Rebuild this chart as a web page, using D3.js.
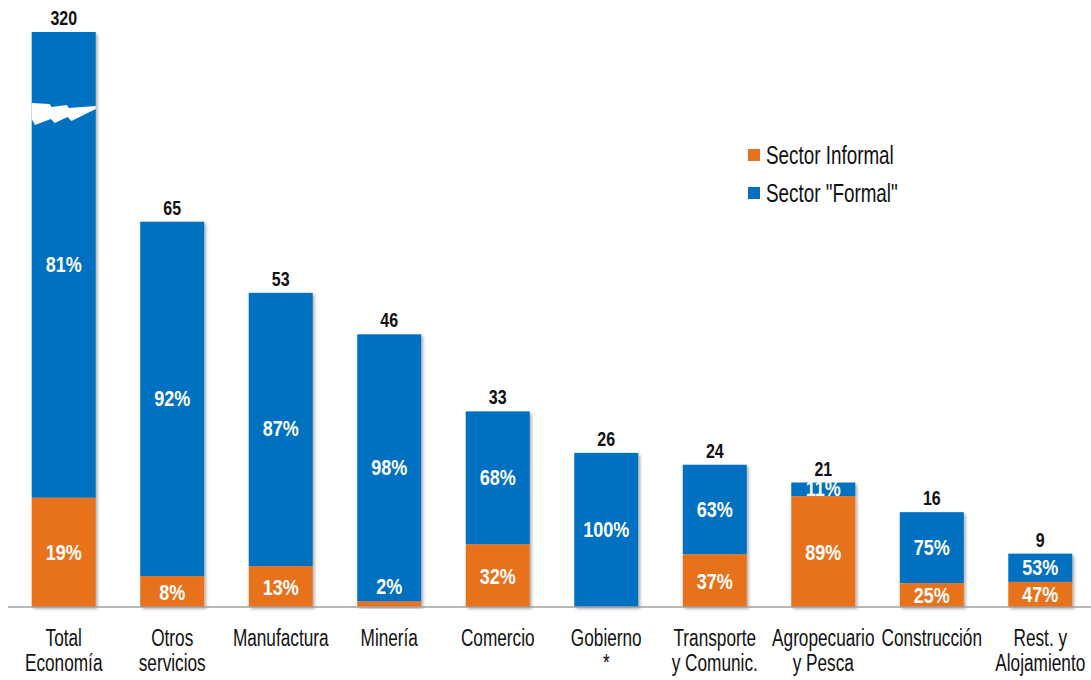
<!DOCTYPE html>
<html>
<head>
<meta charset="utf-8">
<script src="https://cdn.jsdelivr.net/npm/d3@7"></script>
<style>
  body { margin: 0; background: #fff; }
  svg text { font-family: "Liberation Sans", Arial, sans-serif; }
</style>
</head>
<body>
<div id="chart"></div>
<script>
var width = 1091;
var height = 680;

// datos
var categories = ["Total Economía", "Otros servicios", "Manufactura", "Minería", "Comercio",
                  "Gobierno *", "Transporte y Comunic.", "Agropecuario y Pesca", "Construcción", "Rest. y Alojamiento"];
var categoryLines = [["Total", "Economía"], ["Otros", "servicios"], ["Manufactura"], ["Minería"], ["Comercio"],
                     ["Gobierno", "*"], ["Transporte", "y Comunic."], ["Agropecuario", "y Pesca"], ["Construcción"], ["Rest. y", "Alojamiento"]];
var totals = [320, 65, 53, 46, 33, 26, 24, 21, 16, 9];
var informalPct = [19, 8, 13, 2, 32, 0, 37, 89, 25, 47];
var formalPct = [81, 92, 87, 98, 68, 100, 63, 11, 75, 53];
var seriesNames = ["Sector Informal", "Sector \"Formal\""];

var yMax = 97;      // eje recortado, la barra Total se corta
var breakAt = 83;

var orange = "#E8711E";
var blue = "#0070C0";
var narrow = 0.82;  // simula Arial Narrow

var svg = d3.select("#chart").append("svg")
    .attr("width", width)
    .attr("height", height);

var defs = svg.append("defs");
var f = defs.append("filter").attr("id", "shadow")
    .attr("x", "-10%").attr("y", "-10%").attr("width", "130%").attr("height", "130%");
f.append("feDropShadow").attr("dx", 2).attr("dy", 2).attr("stdDeviation", 1.5)
    .attr("flood-color", "#000").attr("flood-opacity", 0.3);

var x = d3.scaleBand()
    .domain(categories)
    .range([10, 1094])
    .paddingInner(0.41)
    .paddingOuter(0.2);

var y = d3.scaleLinear()
    .domain([0, yMax])
    .range([607, 32]);

function cx(d){ return x(d.cat) + x.bandwidth() / 2; }
function place(px, py, sy){
    return "translate(" + px + "," + py + ") scale(" + narrow + "," + (sy || 1) + ")";
}

var data = categories.map(function(c, i){
    var shown = Math.min(totals[i], yMax);
    return {
        cat: c,
        lines: categoryLines[i],
        total: totals[i],
        inf: informalPct[i],
        form: formalPct[i],
        infVal: shown * informalPct[i] / 100,
        shown: shown
    };
});

var bars = svg.selectAll("g.bar")
    .data(data)
    .enter()
    .append("g")
    .attr("class", "bar");

bars.append("rect")
    .attr("x", function(d){ return x(d.cat); })
    .attr("width", x.bandwidth())
    .attr("y", function(d){ return y(d.shown); })
    .attr("height", function(d){ return y(d.infVal) - y(d.shown); })
    .attr("fill", blue)
    .attr("filter", "url(#shadow)");

bars.filter(function(d){ return d.inf > 0; })
    .append("rect")
    .attr("x", function(d){ return x(d.cat); })
    .attr("width", x.bandwidth())
    .attr("y", function(d){ return y(d.infVal); })
    .attr("height", function(d){ return y(0) - y(d.infVal); })
    .attr("fill", orange)
    .attr("filter", "url(#shadow)");

// marca de corte en la barra Total
data.filter(function(d){ return d.total > yMax; }).forEach(function(d){
    var x0 = x(d.cat);
    var w = x.bandwidth();
    var yb = y(breakAt);
    var pts = [
        [0, -12], [0.28, -11], [0.31, -8], [0.55, -10], [0.58, -7], [1, -9],
        [1, -6], [0.62, 6], [0.56, 2], [0.36, 8], [0.30, 4], [0.05, 10], [0, 4]
    ];
    svg.append("path")
        .attr("d", d3.line()(pts.map(function(p){ return [x0 + p[0] * w, yb + p[1]]; })) + "Z")
        .attr("fill", "#fff");
});

// eje base
svg.append("line")
    .attr("x1", 8).attr("x2", width)
    .attr("y1", y(0)).attr("y2", y(0))
    .attr("stroke", "#a0a0a0")
    .attr("stroke-width", 1.5);

// totales
bars.append("text")
    .attr("transform", function(d){ return place(cx(d), y(d.shown) - 7, 1.05); })
    .attr("text-anchor", "middle")
    .style("font-size", "19.5px")
    .style("font-weight", "bold")
    .attr("fill", "#111")
    .text(function(d){ return d.total; });

// porcentajes formal
bars.append("text")
    .attr("transform", function(d){ return place(cx(d), (y(d.shown) + y(d.infVal)) / 2 + 7, 1); })
    .attr("text-anchor", "middle")
    .style("font-size", "22px")
    .style("font-weight", "bold")
    .attr("fill", "#fff")
    .text(function(d){ return d.form + "%"; });

// porcentajes informal
bars.filter(function(d){ return d.inf > 0; })
    .append("text")
    .attr("transform", function(d){
        var h = y(0) - y(d.infVal);
        var c = h < 20 ? y(d.infVal) - 16 : (y(0) + y(d.infVal)) / 2;
        return place(cx(d), c + 8, 1);
    })
    .attr("text-anchor", "middle")
    .style("font-size", "22px")
    .style("font-weight", "bold")
    .attr("fill", "#fff")
    .text(function(d){ return d.inf + "%"; });

// etiquetas de categoría, una línea por texto
var sy = 1.15;
data.forEach(function(d){
    d.lines.forEach(function(line, i){
        svg.append("text")
            .attr("class", "cat")
            .attr("text-anchor", "middle")
            .style("font-size", "21px")
            .attr("fill", "#111")
            .attr("transform", place(cx(d), 646 + i * 25, sy))
            .text(line);
    });
});

// leyenda
var legend = svg.append("g").attr("transform", "translate(748,149)");
var items = legend.selectAll("g")
    .data(seriesNames)
    .enter()
    .append("g")
    .attr("transform", function(d, i){ return "translate(0," + (i * 38) + ")"; });
items.append("rect")
    .attr("width", 12).attr("height", 12)
    .attr("fill", function(d, i){ return i == 0 ? orange : blue; });
items.append("text")
    .attr("transform", "translate(18,15) scale(" + narrow + ",1.1)")
    .style("font-size", "23px")
    .attr("fill", "#111")
    .text(function(d){ return d; });
</script>
</body>
</html>
